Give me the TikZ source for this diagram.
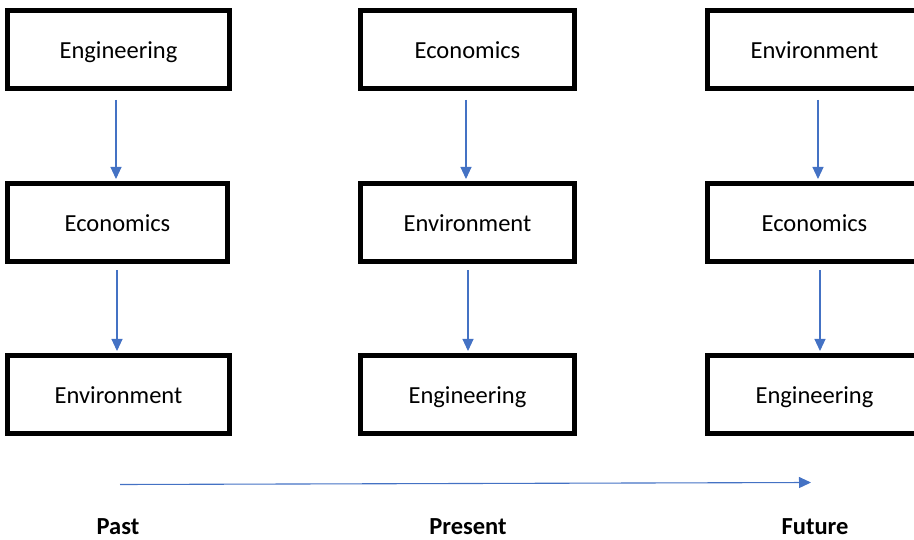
\documentclass[tikz,border=0pt]{standalone}
\usepackage{fontspec}
\setmainfont{Carlito}
\usetikzlibrary{arrows.meta}
\definecolor{arrowblue}{HTML}{4472C4}
\tikzset{
  box/.style={draw=black, line width=5pt, fill=white, minimum height=78pt, inner sep=0pt,
              text height=18pt, text depth=0pt,
              font=\fontsize{24.5}{29}\selectfont},
  col1/.style={box, minimum width=222pt},
  col2/.style={box, minimum width=214pt},
  flow/.style={draw=arrowblue, line width=1.1pt, -{Triangle[length=12pt,width=11pt]}},
  era/.style={font=\fontsize{24.5}{29}\selectfont\bfseries, inner sep=0pt}
}
\begin{document}
\begin{tikzpicture}[x=1pt, y=-1pt]
\useasboundingbox (0,0) rectangle (914,540);
% column 1
\node[col1] (a1) at (118.5,50) {Engineering};
\node[col1, minimum width=220pt] (a2) at (117.5,222.5) {Economics};
\node[col1] (a3) at (118.5,394.5) {Environment};
% column 2
\node[col2] (b1) at (467.5,50) {Economics};
\node[col2] (b2) at (467.5,222.5) {Environment};
\node[col2] (b3) at (467.5,394.5) {Engineering};
% column 3
\node[col2] (c1) at (814.5,50) {Environment};
\node[col2] (c2) at (814.5,222.5) {Economics};
\node[col2] (c3) at (814.5,394.5) {Engineering};
% vertical arrows
\draw[flow] ([xshift=-2.5pt,yshift=-8.5pt]a1.south) -- ([xshift=-2.5pt,yshift=2pt]a1.south |- a2.north);
\draw[flow] ([xshift=-0.5pt,yshift=-6.5pt]a2.south) -- ([xshift=-0.5pt,yshift=2pt]a2.south |- a3.north);
\draw[flow] ([xshift=-1.5pt,yshift=-8.5pt]b1.south) -- ([xshift=-1.5pt,yshift=2pt]b1.south |- b2.north);
\draw[flow] ([xshift=0.5pt,yshift=-6.5pt]b2.south) -- ([xshift=0.5pt,yshift=2pt]b2.south |- b3.north);
\draw[flow] ([xshift=3.5pt,yshift=-8.5pt]c1.south) -- ([xshift=3.5pt,yshift=2pt]c1.south |- c2.north);
\draw[flow] ([xshift=5.5pt,yshift=-6.5pt]c2.south) -- ([xshift=5.5pt,yshift=2pt]c2.south |- c3.north);
% timeline
\coordinate (t1) at (120,484.5);
\coordinate (t2) at (811,482.5);
\draw[flow] (t1) -- (t2);
% era labels
\node[era] (past) at (118,527) {Past};
\node[era] (present) at (468,527) {Present};
\node[era] (future) at (815,527) {Future};
\end{tikzpicture}
\end{document}
